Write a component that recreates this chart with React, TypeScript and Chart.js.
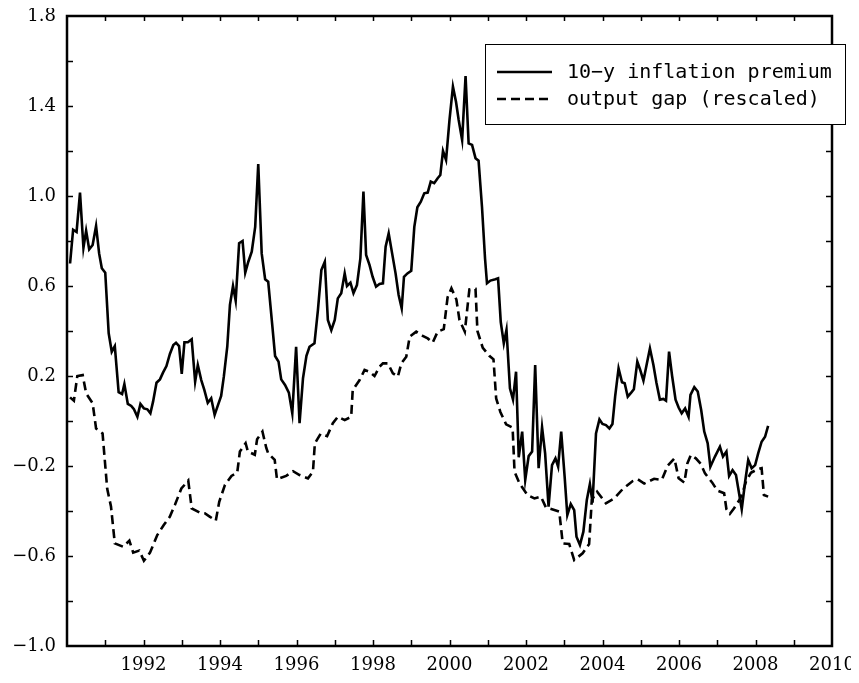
import React, { useEffect, useRef } from "react";
import { Chart, registerables } from "chart.js";

Chart.register(...registerables);

const premiumLabel = "10\u2212y inflation premium";
const gapLabel = "output gap (rescaled)";

const premiumDates = [
  1990.08, 1990.16, 1990.25, 1990.34, 1990.43, 1990.5, 1990.58, 1990.67, 1990.76, 1990.84, 1990.91,
  1991.0, 1991.09, 1991.17, 1991.25, 1991.35, 1991.44, 1991.5, 1991.59, 1991.68, 1991.75, 1991.84, 1991.92,
  1992.01, 1992.1, 1992.18, 1992.25, 1992.34, 1992.43, 1992.51, 1992.6, 1992.69, 1992.78, 1992.85, 1992.93,
  1993.0, 1993.07, 1993.16, 1993.26, 1993.35, 1993.42, 1993.51, 1993.59, 1993.68, 1993.77, 1993.86, 1993.94,
  1994.03, 1994.1, 1994.19, 1994.26, 1994.34, 1994.41, 1994.5, 1994.59, 1994.66, 1994.74, 1994.83, 1994.92,
  1995.0, 1995.09, 1995.18, 1995.26, 1995.37, 1995.44, 1995.53, 1995.6, 1995.7, 1995.8, 1995.89, 1995.99,
  1996.08, 1996.17, 1996.26, 1996.34, 1996.47, 1996.56, 1996.65, 1996.74, 1996.82, 1996.91,
  1997.0, 1997.08, 1997.17, 1997.26, 1997.32, 1997.41, 1997.49, 1997.58, 1997.67, 1997.75, 1997.82, 1997.91, 1997.99,
  1998.08, 1998.17, 1998.26, 1998.33, 1998.41, 1998.5, 1998.59, 1998.67, 1998.75, 1998.81, 1998.9,
  1999.0, 1999.08, 1999.16, 1999.25, 1999.34, 1999.43, 1999.51, 1999.6, 1999.69, 1999.76, 1999.83, 1999.91,
  2000.0, 2000.09, 2000.17, 2000.24, 2000.33, 2000.42, 2000.5, 2000.59, 2000.68, 2000.76, 2000.85, 2000.93, 2000.98,
  2001.07, 2001.2, 2001.27, 2001.34, 2001.42, 2001.49, 2001.58, 2001.66, 2001.74, 2001.81, 2001.9, 2001.98,
  2002.07, 2002.16, 2002.24, 2002.33, 2002.42, 2002.5, 2002.59, 2002.68, 2002.77, 2002.84, 2002.92,
  2003.01, 2003.08, 2003.17, 2003.26, 2003.32, 2003.41, 2003.5, 2003.59, 2003.67, 2003.74, 2003.83, 2003.92,
  2004.0, 2004.09, 2004.18, 2004.26, 2004.33, 2004.42, 2004.51, 2004.58, 2004.66, 2004.75, 2004.82, 2004.91, 2004.98,
  2005.07, 2005.16, 2005.24, 2005.33, 2005.41, 2005.5, 2005.59, 2005.66, 2005.74, 2005.82, 2005.91, 2005.99,
  2006.07, 2006.16, 2006.25, 2006.3, 2006.4, 2006.49, 2006.58, 2006.66, 2006.75, 2006.82, 2006.94,
  2007.07, 2007.15, 2007.24, 2007.31, 2007.4, 2007.49, 2007.57, 2007.64, 2007.73, 2007.81, 2007.9, 2007.99,
  2008.07, 2008.16, 2008.25, 2008.33,
];
const premiumValues = [
  0.7, 0.85, 0.84, 1.015, 0.77, 0.846, 0.763, 0.782, 0.867, 0.745, 0.679,
  0.659, 0.39, 0.308, 0.333, 0.128, 0.12, 0.164, 0.076, 0.067, 0.052, 0.019, 0.076,
  0.056, 0.052, 0.034, 0.086, 0.17, 0.185, 0.215, 0.244, 0.298, 0.338, 0.348, 0.333,
  0.209, 0.35, 0.35, 0.363, 0.175, 0.249, 0.182, 0.138, 0.081, 0.101, 0.027, 0.067,
  0.111, 0.197, 0.33, 0.516, 0.6, 0.535, 0.79, 0.8, 0.659, 0.708, 0.752, 0.863,
  1.142, 0.745, 0.63, 0.619, 0.419, 0.289, 0.264, 0.185, 0.16, 0.126, 0.034, 0.33,
  -0.01, 0.19, 0.29, 0.33, 0.345, 0.493, 0.671, 0.708, 0.449, 0.404,
  0.449, 0.545, 0.568, 0.656, 0.6, 0.615, 0.568, 0.604, 0.723, 1.02, 0.738, 0.693, 0.641,
  0.597, 0.609, 0.612, 0.775, 0.834, 0.745, 0.656, 0.56, 0.501, 0.641, 0.656,
  0.668, 0.863, 0.95, 0.975, 1.012, 1.015, 1.064, 1.057, 1.079, 1.093, 1.2, 1.16,
  1.338, 1.486, 1.419, 1.338, 1.249, 1.533, 1.234, 1.227, 1.168, 1.157, 0.95, 0.72, 0.612,
  0.624, 0.63, 0.634, 0.44, 0.345, 0.405, 0.145, 0.095, 0.219, -0.161, -0.047, -0.262,
  -0.156, -0.136, 0.249, -0.21, -0.028, -0.144, -0.381, -0.196, -0.166, -0.203, -0.047,
  -0.247, -0.418, -0.369, -0.396, -0.514, -0.551, -0.492, -0.351, -0.28, -0.363, -0.055, 0.007,
  -0.013, -0.018, -0.033, -0.013, 0.108, 0.234, 0.172, 0.168, 0.108, 0.126, 0.141, 0.264, 0.23,
  0.179, 0.256, 0.323, 0.25, 0.17, 0.095, 0.098, 0.09, 0.308, 0.2, 0.095, 0.06,
  0.034, 0.056, 0.019, 0.116, 0.15, 0.131, 0.049, -0.047, -0.099, -0.203, -0.158,
  -0.114, -0.158, -0.136, -0.244, -0.218, -0.24, -0.321, -0.392, -0.269, -0.173, -0.21, -0.196,
  -0.144, -0.092, -0.07, -0.022,
];

const gapDates = [
  1990.08, 1990.18, 1990.27, 1990.41, 1990.5, 1990.67, 1990.76, 1990.93,
  1991.05, 1991.15, 1991.25, 1991.47, 1991.63, 1991.73, 1991.89,
  1992.01, 1992.17, 1992.36, 1992.53, 1992.69, 1992.82, 1992.99,
  1993.17, 1993.26, 1993.47, 1993.6, 1993.73, 1993.89, 1993.98,
  1994.13, 1994.3, 1994.45, 1994.52, 1994.67, 1994.73, 1994.91, 1994.97,
  1995.11, 1995.21, 1995.26, 1995.43, 1995.49, 1995.73, 1995.91,
  1996.08, 1996.3, 1996.43, 1996.48, 1996.63, 1996.8, 1996.95,
  1997.08, 1997.26, 1997.43, 1997.47, 1997.65, 1997.78, 1997.91,
  1998.04, 1998.17, 1998.26, 1998.39, 1998.52, 1998.65, 1998.74, 1998.87, 1998.96,
  1999.13, 1999.3, 1999.43, 1999.56, 1999.69, 1999.85, 1999.95,
  2000.05, 2000.18, 2000.26, 2000.4, 2000.48, 2000.52, 2000.68, 2000.73, 2000.87,
  2001.04, 2001.15, 2001.22, 2001.33, 2001.48, 2001.65, 2001.7, 2001.83,
  2002.04, 2002.22, 2002.39, 2002.52, 2002.68, 2002.87, 2002.96,
  2003.13, 2003.26, 2003.48, 2003.65, 2003.72, 2003.86,
  2004.09, 2004.31, 2004.52, 2004.79, 2004.92,
  2005.09, 2005.35, 2005.55, 2005.7, 2005.88, 2005.99,
  2006.14, 2006.22, 2006.31, 2006.44, 2006.57, 2006.68, 2006.87,
  2007.0, 2007.18, 2007.24, 2007.33, 2007.44, 2007.59, 2007.68, 2007.75, 2007.88,
  2008.05, 2008.16, 2008.22, 2008.33,
];
const gapValues = [
  0.105, 0.09, 0.2, 0.204, 0.123, 0.079, -0.033, -0.055,
  -0.3, -0.38, -0.544, -0.559, -0.532, -0.585, -0.576,
  -0.621, -0.585, -0.507, -0.462, -0.425, -0.373, -0.3,
  -0.265, -0.388, -0.407, -0.41, -0.425, -0.443, -0.359,
  -0.284, -0.244, -0.23, -0.136, -0.099, -0.136, -0.15, -0.081,
  -0.047, -0.12, -0.144, -0.173, -0.259, -0.244, -0.223,
  -0.24, -0.255, -0.225, -0.099, -0.057, -0.067, -0.01,
  0.019, 0.004, 0.019, 0.138, 0.182, 0.227, 0.219,
  0.2, 0.241, 0.256, 0.256, 0.212, 0.197, 0.256, 0.286, 0.375,
  0.397, 0.378, 0.367, 0.348, 0.397, 0.408, 0.55,
  0.59, 0.54, 0.449, 0.397, 0.523, 0.585, 0.587, 0.4, 0.325,
  0.29, 0.274, 0.1, 0.04, -0.015, -0.03, -0.225, -0.277,
  -0.329, -0.344, -0.336, -0.384, -0.392, -0.403, -0.544,
  -0.547, -0.618, -0.588, -0.547, -0.351, -0.314,
  -0.366, -0.344, -0.304, -0.267, -0.259,
  -0.278, -0.257, -0.262, -0.2, -0.166, -0.255,
  -0.274, -0.188, -0.151, -0.166, -0.191, -0.233, -0.274,
  -0.309, -0.321, -0.392, -0.413, -0.388, -0.348, -0.309, -0.269, -0.23,
  -0.215, -0.21, -0.329, -0.336,
];

const yMin = -1.0;
const yMax = 1.8;
const yStep = 0.2;
const xMin = 1990;
const xMax = 2010;
const xStep = 1;

const TICK_FONT = "'DejaVu Serif', serif";
const LEGEND_FONT = "'DejaVu Sans Mono', monospace";

const framePlugin = {
  id: "frame",
  afterDraw(chart: any) {
    const { ctx, chartArea: a, scales } = chart;
    const xs = scales.x;
    const ys = scales.y;
    ctx.save();
    ctx.strokeStyle = "#000";
    ctx.lineWidth = 1.5;
    ctx.setLineDash([]);
    // ticks
    const tl = 6;
    ctx.beginPath();
    xs.ticks.forEach((t: any) => {
      const px = Math.round(xs.getPixelForValue(t.value)) + 0.5;
      if (px <= a.left + 1 || px >= a.right - 1) return;
      ctx.moveTo(px, a.bottom);
      ctx.lineTo(px, a.bottom - tl);
      ctx.moveTo(px, a.top);
      ctx.lineTo(px, a.top + tl - 1);
    });
    ys.ticks.forEach((t: any) => {
      const py = Math.round(ys.getPixelForValue(t.value)) + 0.5;
      if (py <= a.top + 1 || py >= a.bottom - 1) return;
      ctx.moveTo(a.left, py);
      ctx.lineTo(a.left + tl, py);
      ctx.moveTo(a.right, py);
      ctx.lineTo(a.right - tl, py);
    });
    ctx.stroke();
    // frame
    ctx.lineWidth = 2.5;
    ctx.strokeRect(a.left, a.top, a.right - a.left, a.bottom - a.top);

    // legend
    const bx = a.left + 418;
    const by = a.top + 28;
    const bw = 360;
    const bh = 80;
    ctx.fillStyle = "#fff";
    ctx.fillRect(bx, by, bw, bh);
    ctx.lineWidth = 1;
    ctx.strokeStyle = "#000";
    ctx.strokeRect(bx + 0.5, by + 0.5, bw, bh);
    const ds = chart.data.datasets;
    const rows = [by + 28, by + 55];
    ds.forEach((d: any, i: number) => {
      const y = rows[i];
      ctx.beginPath();
      ctx.lineWidth = 2.5;
      ctx.setLineDash(d.borderDash || []);
      ctx.moveTo(bx + 12, y);
      ctx.lineTo(bx + 67, y);
      ctx.stroke();
      ctx.setLineDash([]);
      ctx.fillStyle = "#000";
      ctx.font = "20px " + LEGEND_FONT;
      ctx.textBaseline = "middle";
      ctx.textAlign = "left";
      ctx.fillText(d.label, bx + 82, y + 1);
    });
    ctx.restore();
  },
};

export default function App() {
  const ref = useRef<HTMLCanvasElement | null>(null);
  useEffect(() => {
    if (!ref.current) return;
    const chart = new Chart(ref.current, {
      type: "line",
      data: {
        datasets: [
          {
            label: premiumLabel,
            data: premiumDates.map((d, i) => ({ x: d, y: premiumValues[i] })),
            borderColor: "#000",
            borderWidth: 2.6,
            pointRadius: 0,
            tension: 0,
            fill: false,
          },
          {
            label: gapLabel,
            data: gapDates.map((d, i) => ({ x: d, y: gapValues[i] })),
            borderColor: "#000",
            borderWidth: 2.6,
            borderDash: [9, 5],
            pointRadius: 0,
            tension: 0,
            fill: false,
          },
        ],
      },
      options: {
        responsive: true,
        maintainAspectRatio: false,
        animation: false,
        layout: { padding: { left: 0, right: 19, top: 8, bottom: 0 } },
        plugins: { legend: { display: false }, tooltip: { enabled: false } },
        scales: {
          x: {
            type: "linear",
            min: xMin,
            max: xMax,
            border: { display: false },
            grid: { display: false, drawTicks: false },
            ticks: {
              stepSize: xStep,
              autoSkip: false,
              maxRotation: 0,
              padding: 9,
              color: "#000",
              font: { family: TICK_FONT, size: 18 },
              callback: (v: any) => {
                const n = Math.round(Number(v));
                return n % 2 === 0 && n >= 1992 ? String(n) : "";
              },
            },
            afterFit: (s: any) => {
              s.height = 29;
              s.paddingLeft = 0;
              s.paddingRight = 0;
            },
          },
          y: {
            type: "linear",
            min: yMin,
            max: yMax,
            border: { display: false },
            grid: { display: false, drawTicks: false },
            ticks: {
              stepSize: yStep,
              autoSkip: false,
              padding: 11,
              color: "#000",
              font: { family: TICK_FONT, size: 18 },
              callback: (v: any) => {
                const n = Number(v);
                const k = Math.round((n - yMin) / yStep);
                if (k % 2 !== 0) return "";
                return n.toFixed(1).replace("-", "\u2212");
              },
            },
            afterFit: (s: any) => {
              s.width = 59;
              s.paddingTop = 0;
              s.paddingBottom = 0;
            },
          },
        },
      },
      plugins: [framePlugin],
    } as any);
    return () => chart.destroy();
  }, []);
  return (
    <div style={{ width: 843, height: 667, position: "relative" }}>
      <canvas ref={ref} />
    </div>
  );
}
